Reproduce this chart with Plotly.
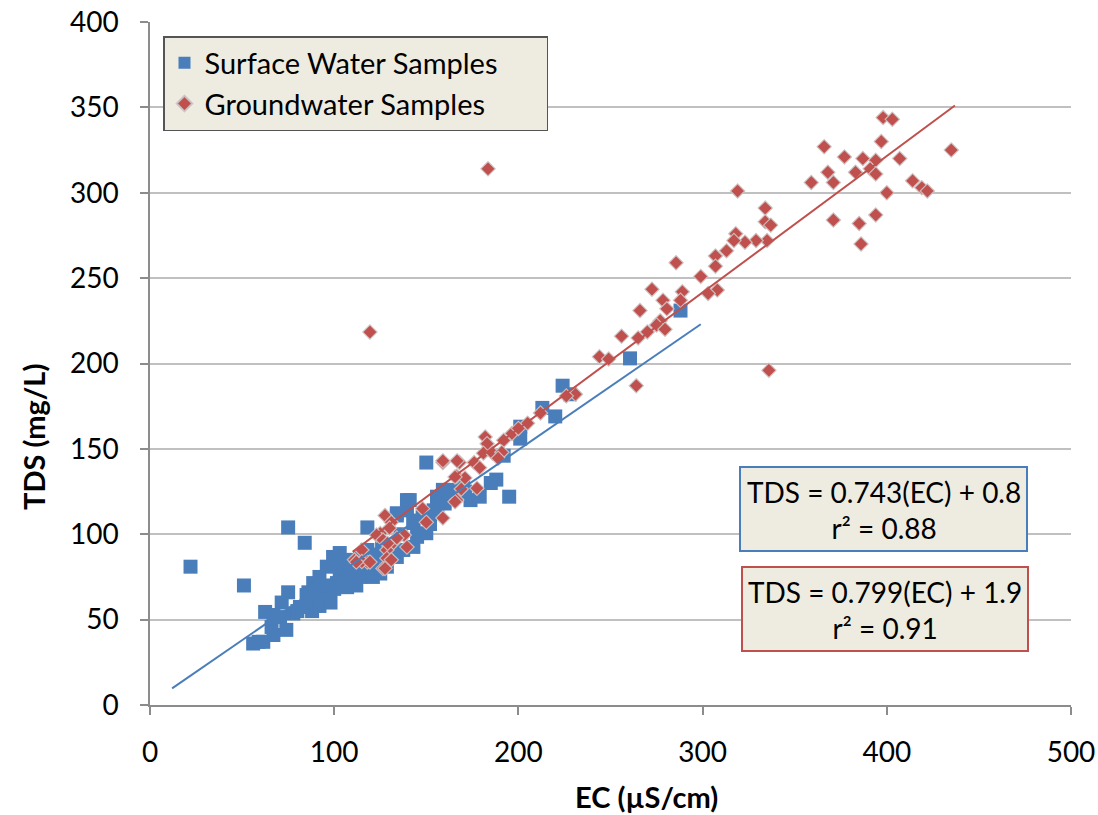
import plotly.graph_objects as go

# Surface water samples (EC, TDS)
sw_ec = [22, 51, 75, 84, 118, 150, 62.5, 59, 56, 67, 66, 75, 71.5, 67, 61.5, 70.6, 77.8, 81.4, 85,
         88.6, 92, 96, 99.4, 103, 107, 92, 85, 94, 97.7, 101.5, 103, 107, 110, 114, 117.8, 121,
         125, 110, 114, 118, 134, 137.5, 143, 145, 134, 139.5, 143, 150, 154, 155.8, 128.6, 121,
         74, 195, 201, 213, 188, 185, 179, 174, 159, 141, 139.5, 134, 143, 152, 260.6, 288, 224,
         228, 220, 201, 192, 171, 163, 156, 80, 88, 90, 100, 105, 112, 116, 120, 124, 130, 136,
         148, 160, 166, 170, 86, 92, 96, 104, 108, 98, 102, 112, 126, 132]
sw_tds = [81, 70, 104, 95, 104, 142, 54.5, 37, 36, 41, 45.7, 66, 60, 52.7, 37, 51.5, 53.6, 57.4, 64.4,
          71.4, 75, 81, 86.7, 89, 85, 65.6, 57.4, 61.5, 67, 71.4, 77, 69, 73, 75, 79, 81,
          77, 83, 86.7, 90.8, 86.7, 90.8, 92.6, 98.5, 112.3, 120, 106.6, 100.6, 114, 122, 81, 75,
          44, 122, 163, 174, 132, 130, 122, 120, 126, 120, 114, 111, 108, 106, 203, 231, 187,
          182, 169, 156, 146, 125, 126, 117, 55, 55, 62, 68, 72, 78, 84, 82, 88, 94, 100,
          110, 118, 124, 128, 66, 58, 70, 80, 76, 60, 84, 70, 92, 88]

# Groundwater samples (EC, TDS)
gw_ec = [119.4, 183.5, 336, 398, 403, 435, 366, 397, 377, 387, 394, 407, 368, 383, 391, 394, 359,
         371, 414, 419, 422, 400, 319, 334, 334, 337, 371, 385, 394, 386, 335, 329, 323, 318, 317,
         313, 307, 307, 285.6, 299, 289, 308, 303, 272.5, 278.5, 280.6, 288, 266, 277, 275, 279.6,
         270, 265, 256, 244, 249, 264, 231, 182, 183, 196.5, 192, 181, 186, 191, 189, 159, 168, 176,
         179, 166.5, 171, 177.5, 166.5, 169, 148, 150, 159, 127.6, 131, 130, 125, 123, 126.5, 132,
         138, 134, 139.5, 128.6, 115, 128.6, 131, 126.5, 118, 111, 115, 159, 166.7, 165.6, 165.6,
         129, 127.6, 119.4, 112, 226, 212, 205, 200]
gw_tds = [218.4, 314, 196, 344, 343, 325, 327, 330, 321, 320, 319, 320, 312, 312, 314, 311, 306,
          306, 307, 303, 301, 300, 301, 291, 283, 281, 284, 282, 287, 270, 272, 272, 271, 276, 272,
          266, 263, 257, 259, 251, 242, 243, 241, 243.5, 237, 232, 237, 231, 225, 222.5, 220,
          218.5, 215, 216, 204, 202.6, 187, 182, 157, 153, 159, 155, 147.5, 147.5, 148, 144.5, 142, 142, 142,
          139, 134, 133, 127, 120, 126.5, 115, 107, 109.5, 111, 107, 103.6, 100.5, 99.5, 96.6, 95,
          99.5, 97.8, 92.5, 90.8, 90.8, 86, 85, 80, 83.7, 85, 84, 143, 143, 133.6, 119,
          94.7, 80, 83.7, 83.7, 181, 171, 165, 162]

# Linear fits shown on the chart
sw_fit = {"slope": 0.743, "intercept": 0.8, "x_range": [12, 299]}
gw_fit = {"slope": 0.799, "intercept": 1.9, "x_range": [110, 437]}

BLUE = "#4a7ebb"
RED = "#c0504d"
FONT = "Lato"
BEIGE = "#eeece1"
PAD = "\u2002\u2002\u2002"  # invisible right padding inside the legend box

fig = go.Figure()
fig.add_trace(go.Scatter(
    x=sw_ec, y=sw_tds, mode="markers", name="Surface Water Samples" + PAD,
    marker=dict(symbol="square", size=14, color=BLUE, line=dict(width=0))))
fig.add_trace(go.Scatter(
    x=gw_ec, y=gw_tds, mode="markers", name="Groundwater Samples",
    marker=dict(symbol="diamond", size=11, color=RED,
                line=dict(width=1.2, color="rgba(205,195,195,0.9)"))))

for fit, col in ((sw_fit, BLUE), (gw_fit, RED)):
    xs = fit["x_range"]
    ys = [fit["slope"] * v + fit["intercept"] for v in xs]
    fig.add_trace(go.Scatter(x=xs, y=ys, mode="lines", showlegend=False,
                             line=dict(color=col, width=2), hoverinfo="skip"))

# plot area in pixels: x 150..1071, y 22..705
def px_x(p):
    return (p - 150) / 921.0

def px_y(p):
    return (705 - p) / 683.0

shapes = [
    dict(type="rect", xref="paper", yref="paper", x0=px_x(740), x1=px_x(1027),
         y0=px_y(551), y1=px_y(467), fillcolor=BEIGE, line=dict(color=BLUE, width=2), layer="above"),
    dict(type="rect", xref="paper", yref="paper", x0=px_x(742), x1=px_x(1028),
         y0=px_y(651), y1=px_y(567), fillcolor=BEIGE, line=dict(color=RED, width=2), layer="above"),
]

annotations = [
    dict(xref="paper", yref="paper", x=px_x(883.5), y=px_y(510), xanchor="center", yanchor="middle",
         showarrow=False, text="TDS = 0.743(EC) + 0.8<br>r² = 0.88", align="center",
         font=dict(family=FONT, size=28, color="#000000")),
    dict(xref="paper", yref="paper", x=px_x(885), y=px_y(610), xanchor="center", yanchor="middle",
         showarrow=False, text="TDS = 0.799(EC) + 1.9<br>r² = 0.91", align="center",
         font=dict(family=FONT, size=28, color="#000000")),
    dict(xref="paper", yref="paper", x=px_x(646), y=px_y(796), xanchor="center", yanchor="middle",
         showarrow=False, text="<b>EC (µS/cm)</b>", font=dict(family=FONT, size=29, color="#000000")),
    dict(xref="paper", yref="paper", x=px_x(33), y=px_y(437), xanchor="center", yanchor="middle",
         showarrow=False, text="<b>TDS (mg/L)</b>", textangle=-90,
         font=dict(family=FONT, size=29, color="#000000")),
]

fig.update_layout(
    width=1098, height=815,
    margin=dict(l=150, r=27, t=22, b=110),
    paper_bgcolor="white", plot_bgcolor="white",
    font=dict(family=FONT, size=28, color="#000000"),
    showlegend=True,
    legend=dict(x=px_x(163), y=px_y(36), xanchor="left", yanchor="top",
                bgcolor=BEIGE, bordercolor="#555555", borderwidth=1.5,
                font=dict(family=FONT, size=29, color="#000000"),
                itemsizing="constant", tracegroupgap=0),
    shapes=shapes, annotations=annotations,
    xaxis=dict(range=[0, 500], tickvals=[0, 100, 200, 300, 400, 500], showgrid=False,
               zeroline=False, showline=True, linecolor="#8c8c8c", linewidth=1.5,
               ticks="outside", ticklen=8, tickcolor="#8c8c8c", tickwidth=1.5,
               ticklabelstandoff=14, tickfont=dict(family=FONT, size=28), automargin=False),
    yaxis=dict(range=[0, 400], tickvals=[0, 50, 100, 150, 200, 250, 300, 350, 400],
               showgrid=True, gridcolor="#c0c0c0", gridwidth=1.5, zeroline=False,
               showline=True, linecolor="#8c8c8c", linewidth=1.5,
               ticks="outside", ticklen=8, tickcolor="#8c8c8c", tickwidth=1.5,
               ticklabelstandoff=16, tickfont=dict(family=FONT, size=28), automargin=False),
)

fig.write_html("out.html")
